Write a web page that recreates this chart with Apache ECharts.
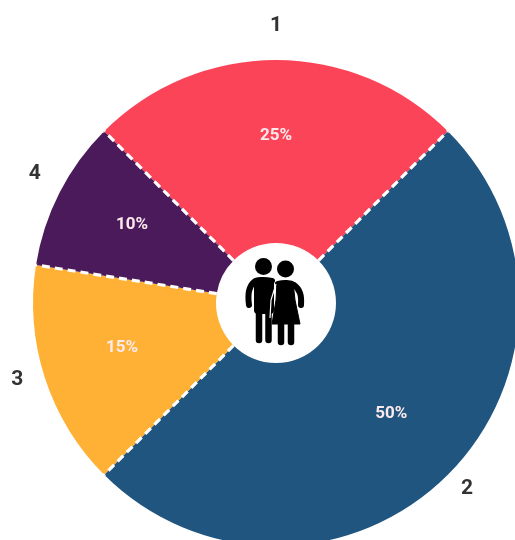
<!DOCTYPE html>
<html><head><meta charset="utf-8">
<style>html,body{margin:0;padding:0;background:#fff}#c{width:515px;height:540px}</style>
<script src="https://cdn.jsdelivr.net/npm/echarts@6/dist/echarts.min.js"></script>
</head><body><div id="c"></div>
<script>
const categories = ['1','2','3','4'];
const values = [25,50,15,10];
const colors = ['#FC4459','#1F557F','#FFB136','#4A1A5A'];
const center = [276,303];
const innerNudge = [[0,-1],[-2,-7],[4,-7],[4,-3]];
const outerNudge = [[0,-4],[-2,-7],[1,-8],[2,-5]];
const rows = categories.map((name,i)=>({name,value:values[i]}));
const total = values.reduce((a,b)=>a+b,0);
let cum = 0;
const boundaries = values.map(v=>{const t=cum/total*360;cum+=v;return t;});
const chart = echarts.init(document.getElementById('c'),null,{renderer:'canvas'});
const black = {fill:'#000'};
const limb = (points,w,smooth)=>({type:'polyline',shape:{points,smooth:smooth||0},style:{stroke:'#000',fill:null,lineWidth:w,lineCap:'round',lineJoin:'round'},z:20,silent:true});
chart.setOption({
  animation:false,
  backgroundColor:'#fff',
  polar:{center,radius:243},
  angleAxis:{type:'value',min:0,max:360,startAngle:135,clockwise:true,show:false},
  radiusAxis:{type:'value',min:0,max:243,show:false},
  series:[
    {type:'pie',center,radius:[60,243],startAngle:135,clockwise:true,silent:true,z:1,
     data:rows.map((r,i)=>({...r,itemStyle:{color:colors[i]}})),
     label:{show:false},labelLine:{show:false}},
    {type:'pie',center,radius:[161,165],startAngle:135,silent:true,z:3,
     data:rows.map((r,i)=>({...r,label:{offset:innerNudge[i]}})),itemStyle:{color:'transparent'},labelLine:{show:false},
     label:{show:true,position:'inside',formatter:'{d}%',fontFamily:'Roboto',fontWeight:'bold',fontSize:17,color:'#fbe9ec'}},
    {type:'pie',center,radius:[268,272],startAngle:135,silent:true,z:3,
     data:rows.map((r,i)=>({...r,label:{offset:outerNudge[i]}})),itemStyle:{color:'transparent'},labelLine:{show:false},
     label:{show:true,position:'inside',formatter:'{b}',fontFamily:'Roboto',fontWeight:'bold',fontSize:21,color:'#333'}},
    ...boundaries.map(t=>({type:'line',coordinateSystem:'polar',silent:true,z:5,symbol:'none',
      data:[[60,t],[243,t]],lineStyle:{color:'#fff',width:3.2,type:[8,5]}}))
  ],
  graphic:[
    {type:'circle',shape:{cx:263.5,cy:266.5,r:8.5},style:black,z:20,silent:true},
    {type:'circle',shape:{cx:285.5,cy:269,r:8.5},style:black,z:20,silent:true},
    limb([[249,305],[249,291],[254,282],[262,280],[272,281]],6,0.4),
    {type:'rect',shape:{x:254,y:278,width:20,height:36,r:4},style:black,z:20,silent:true},
    limb([[259,310],[259,340]],6.5),
    limb([[268.5,310],[268.5,340]],6.5),
    limb([[301,305],[300,293],[294,285],[286,283],[278,284]],6,0.4),
    {type:'polygon',shape:{points:[[277,282],[293,282],[295,300],[300,324],[272,324],[276,300]]},style:{fill:'#000',stroke:'#000',lineWidth:1,lineJoin:'round'},z:20,silent:true},
    limb([[281,322],[281,342]],6.5),
    limb([[291,322],[291,342]],6.5),
    {type:'polyline',shape:{points:[[276,284],[271,300],[270,318]]},style:{stroke:'#fff',fill:null,lineWidth:1.2},z:21,silent:true}
  ]
});
</script></body></html>
